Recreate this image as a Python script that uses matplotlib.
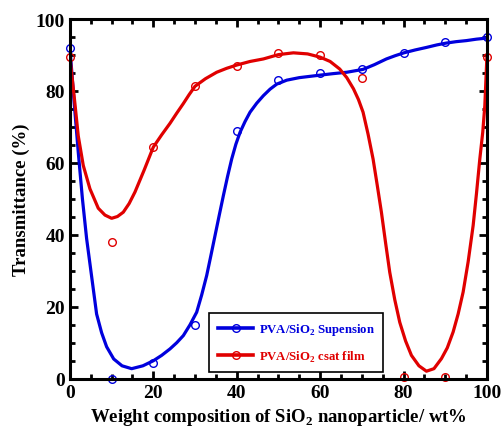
import numpy as np
import matplotlib.pyplot as plt
from matplotlib.ticker import MultipleLocator

plt.rcParams['font.family'] = ['Liberation Serif', 'DejaVu Serif']
plt.rcParams['font.weight'] = 'bold'
plt.rcParams['mathtext.fontset'] = 'custom'
plt.rcParams['mathtext.rm'] = 'Liberation Serif:bold'
plt.rcParams['mathtext.bf'] = 'Liberation Serif:bold'

# measured points
wt = [0, 10, 20, 30, 40, 50, 60, 70, 80, 90, 100]
susp_pts = [92, 0, 4.5, 15, 69, 83, 85, 86, 90.5, 93.5, 95]
film_pts = [89.5, 38, 64.5, 81.5, 87, 90.5, 90, 83.5, 0.5, 0.5, 89.5]

# smoothed curves
susp_cx = [0, 1, 2, 3, 4, 5.2, 6.4, 7.6, 8.8, 10.5, 12.5, 14.8, 17.5, 20, 22, 24,
           25.6, 27.2, 28.8, 30.4, 31.6, 32.8, 33.8, 34.8, 35.8, 36.8, 37.8,
           38.8, 39.8, 40.8, 42, 43.2, 44.8, 46.4, 48, 49.6, 52, 55,
           60, 63, 66.4, 70.3, 73, 75.9, 78, 80.1, 82.8, 85.5, 88, 90.2, 92.6,
           95.1, 97.5, 100]
susp_cy = [92, 77, 63, 50, 39, 28.5, 18, 12.8, 8.9, 5.5, 3.6, 2.8, 3.6, 5, 6.5, 8.3,
           10, 12, 15, 18.5, 23.3, 28.7, 34.2, 39.8, 45.4, 50.9, 56.2,
           61.1, 65.2, 68.5, 71.5, 74.1, 76.6, 78.7, 80.5, 81.9, 83, 83.7,
           84.4, 84.8, 85.2, 86, 87.3, 88.9, 89.8, 90.6, 91.4, 92.1, 92.8, 93.3, 93.7,
           94, 94.4, 94.7]
film_cx = [0, 0.6, 1.2, 2, 3.2, 4.8, 6.8, 8.4, 10, 11.4, 12.8, 14.2, 15.6, 17.8, 20,
           22, 24, 25.6, 27.2, 28.6, 30, 32.5, 35.2, 37.6, 40, 43.2, 46.4, 50,
           53.6, 57, 60, 62.4, 64.7, 66.4, 68, 69.2, 70.3, 71.5, 72.7, 73.7, 74.7,
           75.7, 76.7, 77.9, 79.1, 80.5, 81.9, 83.7, 85.5, 87.3, 89.1, 90.5, 91.9,
           93.1, 94.3, 95.5, 96.7, 97.5, 98.3, 99, 99.5, 100]
film_cy = [89.5, 83, 76.5, 67.5, 59.3, 52.8, 47.4, 45.5, 44.6, 45.1, 46.3, 48.7, 51.9, 58, 64.4,
           67.8, 71, 73.8, 76.5, 79, 81.3, 83.4, 85.2, 86.3, 87.2, 88.2, 88.9, 90.1,
           90.6, 90.3, 89.4, 88.2, 86.1, 83.7, 80.6, 77.6, 74.1, 68, 61.1, 53.8, 46.3,
           37.8, 29.6, 22, 15.7, 10.5, 6.5, 3.6, 2.1, 2.8, 5.6, 8.6, 13,
           18, 24.1, 32.5, 42.6, 51.5, 61.1, 68.5, 75.9, 89.5]

blue = '#0000dd'
red = '#e00000'

fig, ax = plt.subplots(figsize=(5.03, 4.35), dpi=100)
fig.subplots_adjust(left=0.139, right=0.968, top=0.954, bottom=0.127)

ax.plot(susp_cx, susp_cy, color=blue, lw=2.3, solid_joinstyle='round')
ax.plot(film_cx, film_cy, color=red, lw=2.3, solid_joinstyle='round')
ax.plot(wt, susp_pts, 'o', mfc='none', mec=blue, ms=5.5, mew=1, clip_on=False)
ax.plot(wt, film_pts, 'o', mfc='none', mec=red, ms=5.5, mew=1, clip_on=False)

# legend handles
ax.plot([], [], color=blue, lw=2.6, marker='o', mfc='none', mec=blue, ms=5.5,
        label='PVA/SiO$_\\mathbf{2}$ Supension')
ax.plot([], [], color=red, lw=2.6, marker='o', mfc='none', mec=red, ms=5.5,
        label='PVA/SiO$_\\mathbf{2}$ csat film')
leg = ax.legend(loc='lower right', bbox_to_anchor=(0.751, 0.019), borderaxespad=0,
                fancybox=False, edgecolor='black', framealpha=1,
                prop={'size': 9.2, 'weight': 'bold'},
                handlelength=2.8, handletextpad=0.4, borderpad=0.65, labelspacing=0.9)
leg.get_frame().set_linewidth(1.2)
for t, c in zip(leg.get_texts(), [blue, red]):
    t.set_color(c)

ax.set_xlim(0, 100)
ax.set_ylim(0, 100)
ax.xaxis.set_major_locator(MultipleLocator(20))
ax.xaxis.set_minor_locator(MultipleLocator(5))
ax.yaxis.set_major_locator(MultipleLocator(20))
ax.yaxis.set_minor_locator(MultipleLocator(5))
ax.tick_params(which='both', direction='in', top=True, right=True, width=2,
               labelsize=14)
ax.tick_params(which='major', length=6)
ax.tick_params(which='minor', length=3.5)
for s in ax.spines.values():
    s.set_linewidth(2.2)

ax.set_xlabel('Weight composition of SiO$_\\mathbf{2}$ nanoparticle/ wt%',
              fontsize=13.5, fontweight='bold', labelpad=4)
ax.set_ylabel('Transmittance (%)', fontsize=13.5, fontweight='bold', labelpad=4)

fig.savefig('out.png')
